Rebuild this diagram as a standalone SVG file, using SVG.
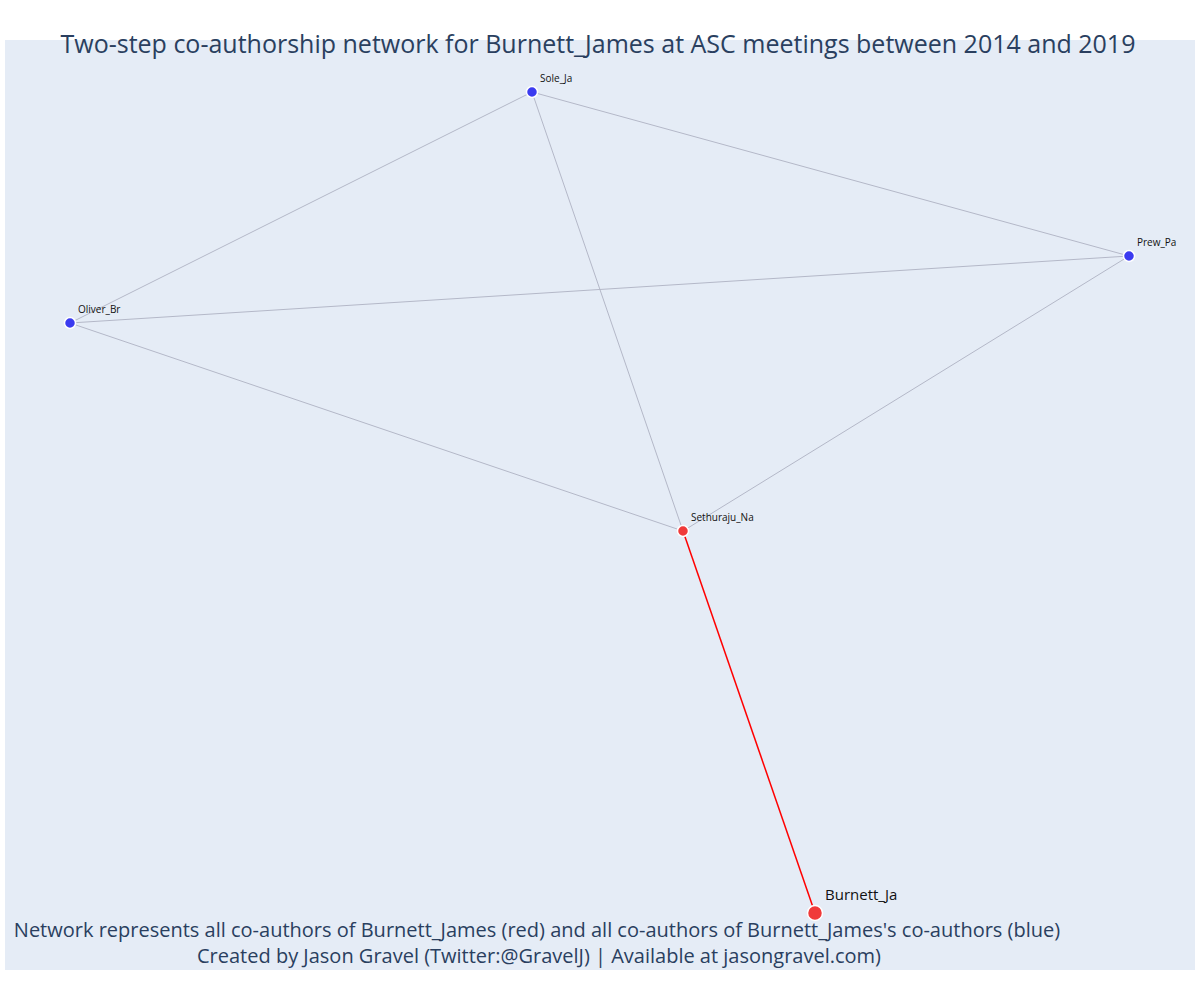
<svg xmlns="http://www.w3.org/2000/svg" width="1200" height="1000" viewBox="0 0 1200 1000">
<style>
text{font-family:"Open Sans","Noto Sans","Liberation Sans",sans-serif}
.t{fill:#2a3f5f}
.lbl{font-size:10px;fill:#111}
.e{stroke:#b4b8c8;stroke-width:1;fill:none}
.er{stroke:#ff0000;stroke-width:1.5;fill:none}
.b{fill:#3b3bf0;stroke:#ffffff;stroke-width:1.5}
.r{fill:#f03a3a;stroke:#ffffff;stroke-width:1.5}
</style>
<rect x="0" y="0" width="1200" height="1000" fill="#ffffff"/>
<rect x="5" y="40" width="1190" height="930" fill="#e5ecf6"/>
<g id="edges">
<line class="e" x1="532" y1="92" x2="1129" y2="256"/>
<line class="e" x1="532" y1="92" x2="70" y2="323"/>
<line class="e" x1="532" y1="92" x2="683" y2="531"/>
<line class="e" x1="70" y1="323" x2="1129" y2="256"/>
<line class="e" x1="70" y1="323" x2="683" y2="531"/>
<line class="e" x1="1129" y1="256" x2="683" y2="531"/>
<line class="er" x1="683" y1="531" x2="815" y2="913"/>
</g>
<g id="node-sole">
<circle class="b" cx="532" cy="92" r="5.5"/>
<text class="lbl" x="540" y="82">Sole_Ja</text>
</g>
<g id="node-prew">
<circle class="b" cx="1129" cy="256" r="5.5"/>
<text class="lbl" x="1137" y="246">Prew_Pa</text>
</g>
<g id="node-oliver">
<circle class="b" cx="70" cy="323" r="5.5"/>
<text class="lbl" x="78" y="313">Oliver_Br</text>
</g>
<g id="node-sethuraju">
<circle class="r" cx="683" cy="531" r="5.5"/>
<text class="lbl" x="691" y="521">Sethuraju_Na</text>
</g>
<g id="node-burnett">
<circle class="r" cx="815" cy="913" r="7.5"/>
<text x="825" y="900" font-size="15" fill="#111">Burnett_Ja</text>
</g>
<text class="t" x="598" y="53" font-size="25" text-anchor="middle">Two-step co-authorship network for Burnett_James at ASC meetings between 2014 and 2019</text>
<text class="t" x="537" y="937" font-size="20" text-anchor="middle">Network represents all co-authors of Burnett_James (red) and all co-authors of Burnett_James's co-authors (blue)</text>
<text class="t" x="539" y="963" font-size="20" text-anchor="middle">Created by Jason Gravel (Twitter:@GravelJ) | Available at jasongravel.com)</text>
</svg>
